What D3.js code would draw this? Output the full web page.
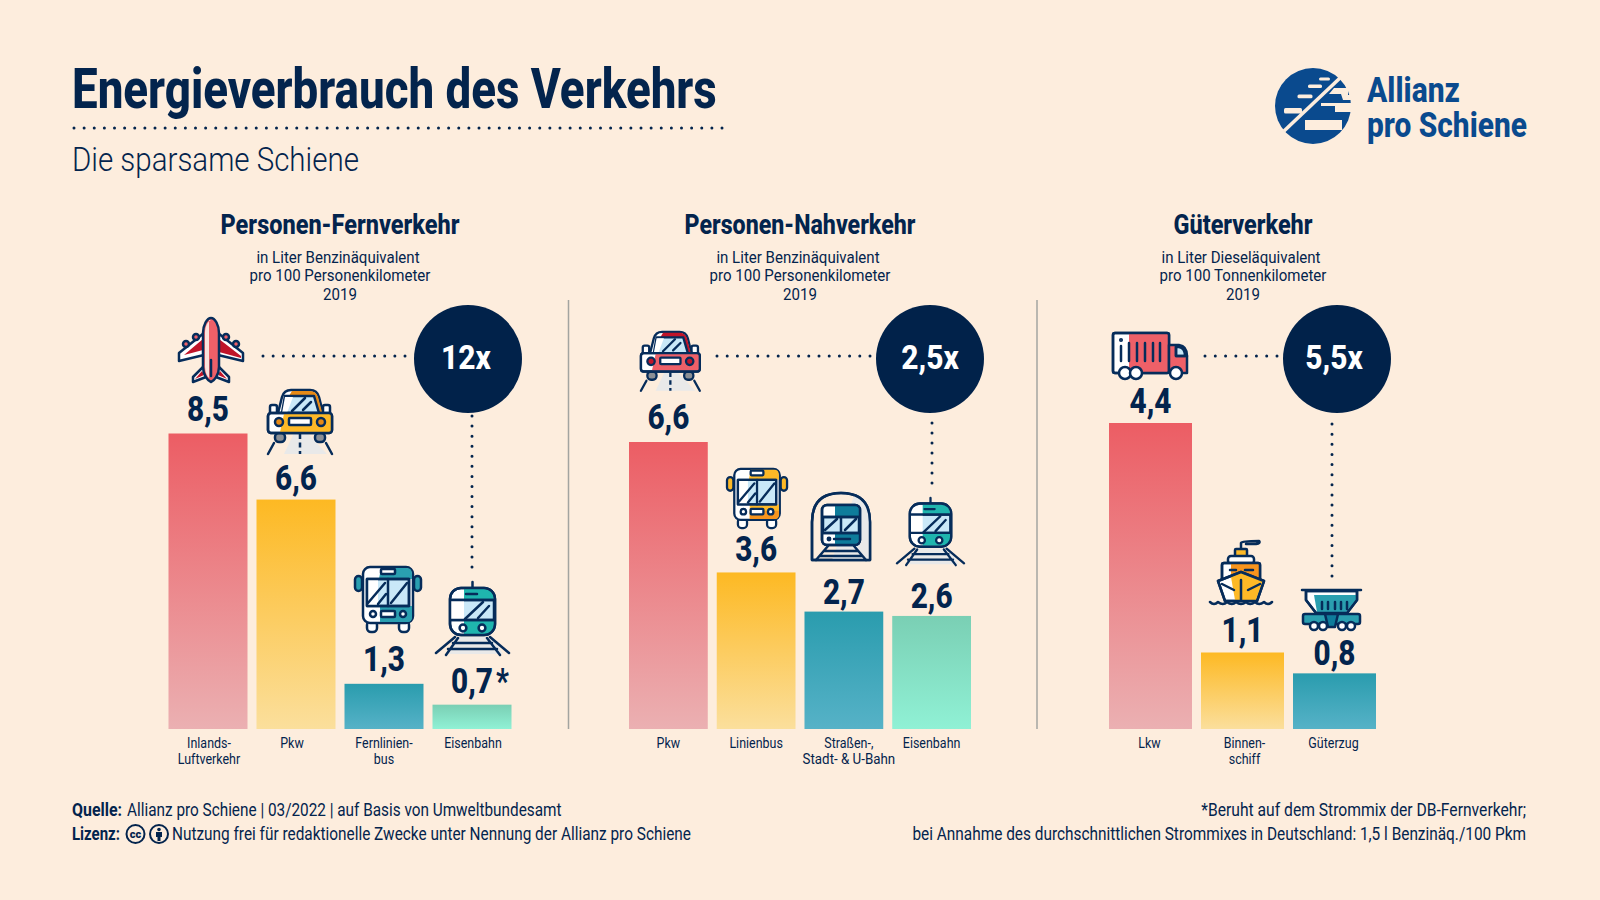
<!DOCTYPE html>
<html>
<head>
<meta charset="utf-8">
<script src="https://cdn.jsdelivr.net/npm/d3@7"></script>
<style>
    html, body { margin: 0; padding: 0; background: #fdeddd; }
    svg { display: block; }
    text { font-family: Roboto, sans-serif; fill: #03244d; }
</style>
</head>
<body>
<svg id="chart" width="1600" height="900"></svg>
<script>
// Data
var fernCategories = ['Inlands-\nLuftverkehr', 'Pkw', 'Fernlinien-\nbus', 'Eisenbahn'];
var fernValues     = [8.5, 6.6, 1.3, 0.7];
var fernNotes      = ['', '', '', '*'];

var nahCategories  = ['Pkw', 'Linienbus', 'Straßen-,\nStadt- & U-Bahn', 'Eisenbahn'];
var nahValues      = [6.6, 3.6, 2.7, 2.6];
var nahNotes       = ['', '', '', ''];

var gutCategories  = ['Lkw', 'Binnen-\nschiff', 'Güterzug'];
var gutValues      = [4.4, 1.1, 0.8];
var gutNotes       = ['', '', ''];

var factors        = ['12x', '2,5x', '5,5x'];
var panelTitles    = ['Personen-Fernverkehr', 'Personen-Nahverkehr', 'Güterverkehr'];
var panelUnits     = [
    ['in Liter Benzinäquivalent', 'pro 100 Personenkilometer', '2019'],
    ['in Liter Benzinäquivalent', 'pro 100 Personenkilometer', '2019'],
    ['in Liter Dieseläquivalent', 'pro 100 Tonnenkilometer', '2019']
];

// Colours
var BG = '#fdeddd', NAVY = '#03244d', LINE = '#062c5a', BLUE = '#c9e8f8', WHITE = '#ffffff', ROAD = '#e9e9e9';
var RED = '#ee6068', DARKRED = '#c0152a', YELLOW = '#fdb927', ORANGE = '#f7941d';
var TEAL = '#2a9fb0', TURQ = '#1fb5ae', PETROL = '#0e7c9b';

var svg = d3.select('#chart');
var baseline = 729;
var fmt = d3.formatLocale({ decimal: ',', thousands: '.', grouping: [3], currency: ['', ''] }).format('.1f');

// Bar gradients
var defs = svg.append('defs');
[
    ['red', '#ec5d64', '#ebb0b2'],
    ['yellow', '#fdb923', '#fbdf9c'],
    ['teal', '#2a9cae', '#56b2c7'],
    ['mint', '#7acfb4', '#90f1d5']
].forEach(function (g) {
    var grad = defs.append('linearGradient')
        .attr('id', 'grad-' + g[0])
        .attr('x1', 0).attr('y1', 0).attr('x2', 0).attr('y2', 1);
    grad.append('stop').attr('offset', 0).attr('stop-color', g[1]);
    grad.append('stop').attr('offset', 1).attr('stop-color', g[2]);
});
var gradNames = ['red', 'yellow', 'teal', 'mint'];

// Text helper, squeezes Roboto down to the condensed look of the original
function label(parent, str, o) {
    var t = parent.append('text')
        .attr('font-size', o.size)
        .attr('font-weight', o.weight || 400)
        .attr('text-anchor', o.anchor || 'start')
        .text(str);
    if (o.fill) t.style('fill', o.fill);
    var natural = t.node().getComputedTextLength();
    var k = o.width ? o.width / natural : (o.squeeze || 1);
    t.attr('transform', 'translate(' + o.x + ',' + o.y + ') scale(' + k + ',1)');
    t.property('finalLength', natural * k);
    return t;
}

// Round dots, the last one lands on the end of the line
function dotted(x1, y1, x2, y2) {
    var len = Math.hypot(x2 - x1, y2 - y1);
    var gap = len / Math.round(len / 10.15);
    svg.append('line')
        .attr('x1', x1).attr('y1', y1)
        .attr('x2', x2 + (x2 - x1) / len * 0.5).attr('y2', y2 + (y2 - y1) / len * 0.5)
        .attr('stroke', NAVY)
        .attr('stroke-width', 3)
        .attr('stroke-linecap', 'round')
        .attr('stroke-dasharray', '0 ' + gap);
}

// Header
label(svg, 'Energieverbrauch des Verkehrs', { x: 72, y: 108, size: 56, weight: 800, width: 645 });
dotted(74, 128, 722, 128);
label(svg, 'Die sparsame Schiene', { x: 72, y: 171, size: 33, weight: 300, width: 287 });

// Logo
var logo = svg.append('g').attr('transform', 'translate(1313,106)');
logo.append('circle').attr('r', 38).attr('fill', '#0a4a8e');
[[6, -28.5, 11, 3], [-5, -21.5, 14, 3.6], [-15.5, -11.5, 15, 3.8], [-29, 2, 18, 5.5]].forEach(function (r) {
    logo.append('rect').attr('x', r[0]).attr('y', r[1]).attr('width', r[2]).attr('height', r[3])
        .attr('rx', 1.5).attr('fill', BG);
});
logo.append('path')
    .attr('d', 'M21,-18 H35 V-11 L39,-11 V-6 H30 L28,-12 H16 Z M8,-3 H39 V6 H22 V0 H8 Z M-8,14 H29 V24 H-8 Z')
    .attr('fill', BG);
logo.append('line')
    .attr('x1', -29).attr('y1', 25).attr('x2', 27).attr('y2', -28)
    .attr('stroke', BG).attr('stroke-width', 3.6);
label(svg, 'Allianz', { x: 1367, y: 102, size: 35, weight: 800, width: 93, fill: '#0a4a8e' });
label(svg, 'pro Schiene', { x: 1367, y: 137, size: 35, weight: 800, width: 160, fill: '#0a4a8e' });

// Panels
var panels = [
    { categories: fernCategories, values: fernValues, notes: fernNotes, left: 168.5, right: 511.5, top: 433.5, pad: 9 / 88,
      titleX: 340, titleW: 239, circleX: 468, factorDx: -2, hLine: [263, 405], vLine: [472, 416, 567], labelDy: [13, 10, 13, 12], catDx: [1, -4, 0, 1] },
    { categories: nahCategories, values: nahValues, notes: nahNotes, left: 629, right: 971, top: 442, pad: 9 / 88,
      titleX: 800, titleW: 231, circleX: 930, factorDx: 0, hLine: [717, 870], vLine: [932, 423, 483], labelDy: [13, 11, 8, 8], catDx: [0, 0, 5, 0] },
    { categories: gutCategories, values: gutValues, notes: gutNotes, left: 1109, right: 1376, top: 423, pad: 9 / 92,
      titleX: 1243, titleW: 139, circleX: 1337, factorDx: -3, hLine: [1205, 1277], vLine: [1332, 424, 576], labelDy: [10, 11, 8], catDx: [-1, 2, -1] }
];
var unitDx = [-2, 0, 0];

panels.forEach(function (p, pi) {
    var x = d3.scaleBand().domain(p.categories).range([p.left, p.right]).paddingInner(p.pad);
    var y = d3.scaleLinear().domain([0, d3.max(p.values)]).range([baseline, p.top]);
    var rows = p.categories.map(function (c, i) { return { cat: c, value: p.values[i], note: p.notes[i], i: i }; });
    var g = svg.append('g').attr('class', 'panel');

    label(g, panelTitles[pi], { x: p.titleX, y: 234, size: 28, weight: 800, anchor: 'middle', width: p.titleW });
    panelUnits[pi].forEach(function (line, i) {
        label(g, line, { x: p.titleX + unitDx[i], y: 263 + i * 18.3, size: 17, anchor: 'middle', squeeze: 0.885 });
    });

    g.selectAll('.bar')
        .data(rows)
        .enter().append('rect')
        .attr('class', 'bar')
        .attr('x', function (d) { return x(d.cat); })
        .attr('y', function (d) { return y(d.value); })
        .attr('width', x.bandwidth())
        .attr('height', function (d) { return baseline - y(d.value); })
        .attr('fill', function (d) { return 'url(#grad-' + gradNames[d.i] + ')'; });

    rows.forEach(function (d) {
        var cx = x(d.cat) + x.bandwidth() / 2;
        var ty = y(d.value) - p.labelDy[d.i];
        var t = label(g, fmt(d.value), { x: cx, y: ty, size: 35, weight: 800, anchor: 'middle', squeeze: 0.85 });
        if (d.note) {
            label(g, d.note, { x: cx + t.property('finalLength') / 2 + 3, y: ty, size: 35, weight: 800, squeeze: 0.8 });
        }
        d.cat.split('\n').forEach(function (line, i) {
            label(g, line, { x: cx + p.catDx[d.i], y: 748 + i * 16, size: 14.5, anchor: 'middle', squeeze: line.length > 12 ? 0.92 : 0.86 });
        });
    });

    dotted(p.hLine[0], 356, p.hLine[1], 356);
    dotted(p.vLine[0], p.vLine[1], p.vLine[0], p.vLine[2]);
    g.append('circle').attr('cx', p.circleX).attr('cy', 359).attr('r', 54).attr('fill', '#01224a');
    label(g, factors[pi], { x: p.circleX + p.factorDx, y: 369, size: 34, weight: 800, anchor: 'middle', squeeze: 0.88, fill: '#ffffff' });
});

// Separators
[568.5, 1037].forEach(function (sx) {
    svg.append('line').attr('x1', sx).attr('x2', sx).attr('y1', 300).attr('y2', 729)
        .attr('stroke', '#a3a4a0').attr('stroke-width', 1.5);
});

// Icons, each drawn in its own little coordinate system
function icon(px, py, s) {
    return svg.append('g')
        .attr('transform', 'translate(' + px + ',' + py + ') scale(' + s + ')')
        .attr('stroke', LINE)
        .attr('stroke-width', 2.5)
        .attr('stroke-linejoin', 'round')
        .attr('stroke-linecap', 'round')
        .attr('fill', 'none');
}
function path(g, d, fill, noStroke) {
    var el = g.append('path').attr('d', d).attr('fill', fill || 'none');
    if (noStroke) el.attr('stroke', 'none');
    return el;
}
function dot(g, cx, cy, r, fill) {
    return g.append('circle').attr('cx', cx).attr('cy', cy).attr('r', r).attr('fill', fill || WHITE);
}
function box(g, bx, by, w, h, rx, fill, noStroke) {
    var el = g.append('rect').attr('x', bx).attr('y', by).attr('width', w).attr('height', h)
        .attr('rx', rx).attr('fill', fill || 'none');
    if (noStroke) el.attr('stroke', 'none');
    return el;
}

function plane(g) {
    // wings and tail
    path(g, 'M26,16 L1,36 V44 L26,38 Z', WHITE);
    path(g, 'M25,22 L6,38 L25,33 Z', DARKRED, true);
    path(g, 'M40,16 L65,36 V44 L40,38 Z', WHITE);
    path(g, 'M41,22 L63,39 L63,41 L41,35 Z', DARKRED, true);
    path(g, 'M26,49 L15,60 V65 L28,60 Z', WHITE);
    path(g, 'M24,54 L17,62 L26,58 Z', DARKRED, true);
    path(g, 'M40,49 L51,60 V65 L38,60 Z', WHITE);
    path(g, 'M42,54 L49,62 L40,58 Z', DARKRED, true);
    // engines
    dot(g, 18, 20, 3, RED); dot(g, 48, 20, 3, RED);
    dot(g, 8, 27, 3, RED); dot(g, 58, 27, 3, RED);
    // fuselage
    path(g, 'M33,1 C29,1 25,8 25,16 V50 C25,58 30,64 33,65 C36,64 41,58 41,50 V16 C41,8 37,1 33,1 Z', RED);
    path(g, 'M33,3 C30,4 27,9 27,16 V50 C27,55 29,59 31,61 V3 Z', '#fbe3dd', true);
    path(g, 'M33,43 V59');
}

function car(g, c, dark) {
    path(g, 'M27,44 H40 L60,65 H17 Z', ROAD, true);
    path(g, 'M33,45 V65').attr('stroke-dasharray', '5 3.5').attr('stroke-linecap', 'butt');
    path(g, 'M7,54 L1,65 M59,54 L65,65');
    box(g, 8, 44, 10, 9, 4, '#8b8f95');
    box(g, 48, 44, 10, 9, 4, '#8b8f95');
    box(g, 3, 16, 7, 9, 2, WHITE);
    box(g, 56, 16, 7, 9, 2, WHITE);
    path(g, 'M11,24 L15,8 Q17,1 24,1 H43 Q50,1 52,8 L56,24 Z', WHITE);
    path(g, 'M25,2 H43 Q49,2 51,8 L55,23 H50 L46,7 H22 Z', dark, true);
    path(g, 'M15,24 L18,7 H47 L52,24 Z', BLUE);
    path(g, 'M15,24 L18,8 H26 L20,24 Z', WHITE, true);
    path(g, 'M25,22 L38,9 M36,21 L44,13');
    box(g, 1, 24, 64, 20, 3, WHITE);
    path(g, 'M17,25 H64 V43 H13 Z', c, true);
    box(g, 1, 24, 64, 20, 3);
    dot(g, 12, 33, 4, dark);
    dot(g, 54, 33, 4, dark);
    box(g, 22, 29, 22, 7, 1, WHITE);
}

function bus(g, c, low) {
    box(g, 0, 10, 7, 15, 3.5, c);
    box(g, 59, 10, 7, 15, 3.5, c);
    box(g, 12, 55, 10, 11, 4, WHITE);
    box(g, 44, 55, 10, 11, 4, WHITE);
    box(g, 8, 1, 50, 56, 7, WHITE);
    path(g, 'M26,2 H52 Q57,2 57,8 V13 H24 Z M25,40 H57 V51 Q57,56 52,56 H25 Z', c, true);
    path(g, 'M25,47 H57 V51 Q57,56 52,56 H25 Z', low, true);
    box(g, 12, 13, 42, 27, 0, BLUE);
    path(g, 'M12,13 H23 V40 H12 Z', WHITE, true);
    box(g, 12, 13, 42, 27, 0);
    path(g, 'M33,13 V40 M13,37 L30,17 M23,38 L31,28 M36,37 L52,17');
    box(g, 26, 3, 14, 5, 1, WHITE);
    dot(g, 18, 48, 3, WHITE);
    dot(g, 48, 48, 3, WHITE);
    box(g, 26, 45, 14, 6, 1, WHITE);
}

function train(g) {
    path(g, 'M22,55 H58 L68,72 H14 Z', ROAD, true);
    path(g, 'M37.5,0 V6');
    box(g, 15, 6, 45, 47, 11, WHITE);
    path(g, 'M29,7 H50 Q59,8 59,17 V19 H29 Z M29,38 H59 V43 Q59,52 50,52 H29 Z', TURQ, true);
    box(g, 16, 18, 43, 20, 0, BLUE);
    path(g, 'M16,18 H29 V38 H16 Z', WHITE, true);
    path(g, 'M16,18 H59 M16,38 H59');
    box(g, 15, 6, 45, 47, 11);
    path(g, 'M30,37 L48,20 M43,36 L54,24 M31,12 H42');
    dot(g, 28, 46, 3.4, WHITE);
    dot(g, 47, 46, 3.4, WHITE);
    path(g, 'M20,55 L1,71 M23,56 L11,73 M55,55 L74,71 M52,56 L65,73 M18,61 H57 M13,67 H62');
}

function tram(g) {
    path(g, 'M2,68 V30 Q2,1 31,1 Q60,1 60,30 V68 Z', BG);
    path(g, 'M44,4 Q60,10 60,30 V68 H22 Z', ROAD, true);
    path(g, 'M2,68 V30 Q2,1 31,1 Q60,1 60,30 V68 Z');
    box(g, 12, 13, 38, 40, 5, WHITE);
    path(g, 'M25,14 H45 Q49,14 49,18 V25 H25 Z M25,41 H49 V48 Q49,52 45,52 H25 Z', PETROL, true);
    box(g, 13, 25, 36, 16, 0, BLUE);
    path(g, 'M13,25 H49 M13,41 H49 M31,25 V41 M15,38 L27,27 M35,38 L46,27 M24,47 H40');
    box(g, 12, 13, 38, 40, 5);
    dot(g, 19, 47, 1.2, LINE);
    path(g, 'M18,54 L6,68 M44,54 L56,68 M15,59 H47 M10,64 H52');
}

function truck(g) {
    box(g, 1, 1, 56, 40, 2, WHITE);
    path(g, 'M17,2 H56 V40 H17 Z', RED, true);
    box(g, 1, 1, 56, 40, 2);
    path(g, 'M9,14 V29 M17,11 V29 M25,11 V29 M33,11 V29 M41,11 V29 M48,11 V29');
    dot(g, 9, 8, 0.8, LINE);
    path(g, 'M57,13 H67 Q75,14 75,24 V41 H57 Z', RED);
    path(g, 'M64,15 H67 Q73,16 73,24 H64 Z', BLUE);
    path(g, 'M64,14 V24 H75');
    dot(g, 13, 41, 6);
    dot(g, 24, 41, 6);
    dot(g, 64, 41, 6);
}

function ship(g) {
    path(g, 'M32,9 V3 Q33,1 50,1 Q52,3 47,4 H37');
    box(g, 26, 9, 12, 8, 1, YELLOW);
    box(g, 19, 16, 26, 8, 3, WHITE);
    box(g, 13, 23, 38, 18, 2, WHITE);
    path(g, 'M22,24 H50 V38 H22 Z', ORANGE, true);
    box(g, 13, 23, 38, 18, 2);
    path(g, 'M21,30 H27 M36,30 H44');
    path(g, 'M9,41 L32,32 L55,41 L48,61 H16 Z', WHITE);
    path(g, 'M22,37 L32,33 L54,41 L47,60 H26 Z', YELLOW, true);
    path(g, 'M9,41 L32,32 L55,41 L48,61 H16 Z M32,40 V60 M13,44 L25,50 M51,44 L39,50');
    path(g, 'M1,62 Q5,66 9,62 Q14,66 18,62 Q23,66 27,62 Q32,66 37,62 Q41,66 46,62 Q50,66 55,62 Q59,66 63,62');
}

function wagon(g) {
    path(g, 'M0,1 H59');
    path(g, 'M4,2 H55 V11 L45,24 H14 L4,11 Z', WHITE);
    path(g, 'M12,6 H54 V11 L44,23 H15 Z', TEAL, true);
    path(g, 'M4,2 H55 V11 L45,24 H14 L4,11 Z');
    path(g, 'M20,13 V20 M26,13 V20 M33,13 V20 M39,13 V20 M45,13 V20');
    box(g, 1, 25, 57, 10, 2, TEAL);
    path(g, 'M23,25 H36 L33,38 H26 Z', PETROL);
    dot(g, 12, 37, 4);
    dot(g, 21, 37, 4);
    dot(g, 40, 37, 4);
    dot(g, 49, 37, 4);
}

plane(icon(178, 317, 1));
car(icon(267, 389, 1), YELLOW, '#e68a16');
bus(icon(355, 566, 1), TEAL, TEAL);
train(icon(435, 582, 1));
car(icon(640, 331, 0.92), RED, DARKRED);
bus(icon(727, 468, 0.91), YELLOW, ORANGE);
tram(icon(810, 492, 1));
train(icon(896, 498, 0.92));
truck(icon(1112, 332, 1));
ship(icon(1209, 540, 1));
wagon(icon(1302, 589, 1));

// Footer
label(svg, 'Quelle:', { x: 72, y: 816, size: 17.5, weight: 700, width: 50 });
label(svg, 'Allianz pro Schiene | 03/2022 | auf Basis von Umweltbundesamt', { x: 127, y: 816, size: 17.5, width: 435 });
label(svg, 'Lizenz:', { x: 72, y: 840, size: 17.5, weight: 700, width: 48 });
label(svg, 'Nutzung frei für redaktionelle Zwecke unter Nennung der Allianz pro Schiene', { x: 172, y: 840, size: 17.5, width: 519 });
label(svg, '*Beruht auf dem Strommix der DB-Fernverkehr;', { x: 1526, y: 816, size: 17.5, anchor: 'end', width: 325 });
label(svg, 'bei Annahme des durchschnittlichen Strommixes in Deutschland: 1,5 l Benzinäq./100 Pkm', { x: 1526, y: 840, size: 17.5, anchor: 'end', width: 614 });

svg.append('circle').attr('cx', 135.5).attr('cy', 834).attr('r', 9).attr('fill', 'none').attr('stroke', NAVY).attr('stroke-width', 2);
label(svg, 'cc', { x: 135.5, y: 838, size: 11, weight: 900, anchor: 'middle' });
svg.append('circle').attr('cx', 159).attr('cy', 834).attr('r', 9).attr('fill', 'none').attr('stroke', NAVY).attr('stroke-width', 2);
svg.append('circle').attr('cx', 159).attr('cy', 829.5).attr('r', 1.8).attr('fill', NAVY);
svg.append('path').attr('d', 'M156,832 H162 V837 H160.5 V841 H157.5 V837 H156 Z').attr('fill', NAVY);
</script>
</body>
</html>
